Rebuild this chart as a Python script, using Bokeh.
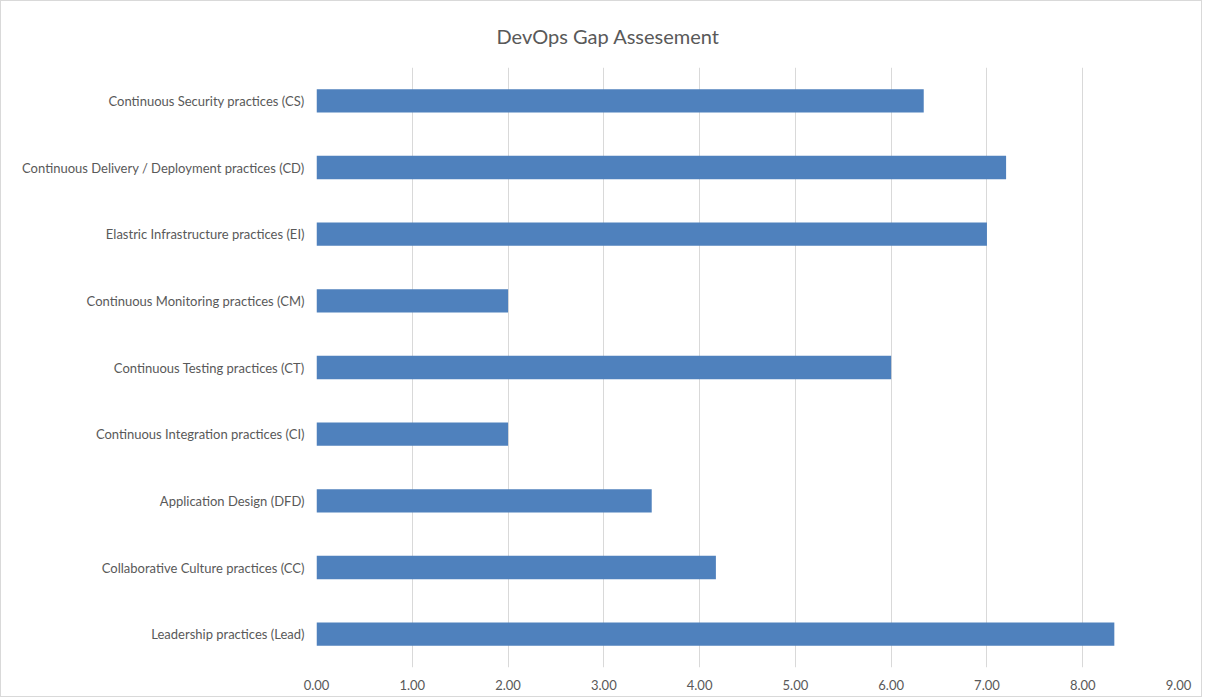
from bokeh.plotting import figure
from bokeh.models import FixedTicker, NumeralTickFormatter, Range1d, FactorRange
from bokeh.embed import file_html
from bokeh.resources import INLINE

categories = [
    "Leadership practices (Lead)",
    "Collaborative Culture practices (CC)",
    "Application Design (DFD)",
    "Continuous Integration practices (CI)",
    "Continuous Testing practices (CT)",
    "Continuous Monitoring practices (CM)",
    "Elastric Infrastructure practices (EI)",
    "Continuous Delivery / Deployment practices (CD)",
    "Continuous Security practices (CS)",
]
values = [8.33, 4.17, 3.5, 2.0, 6.0, 2.0, 7.0, 7.2, 6.34]
x_ticks = [0, 1, 2, 3, 4, 5, 6, 7, 8, 9]

TEXT = "#595959"
FONT = "Lato"

ORIG = 2
W, H = 1202, 697
p = figure(
    width=W, height=H,
    y_range=FactorRange(*categories, range_padding=0),
    x_range=Range1d(0, 9),
    output_backend="svg", toolbar_location=None,
    min_border_left=317 - ORIG, min_border_top=68 - ORIG,
    min_border_right=ORIG + W - 1179, min_border_bottom=ORIG + H - 668,
)
p.styles = {"border": "1px solid #d9d9d9"}
p.title.text = "DevOps Gap Assesement"
p.title.align = "left"
p.title.offset = 180
p.title.text_font = FONT
p.title.text_font_size = "20px"
p.title.text_font_style = "normal"
p.title.text_color = TEXT
p.title.standoff = 40

p.hbar(y=categories, right=values, left=0, height=0.35, color="#4F81BD", line_color=None)

p.outline_line_color = None
p.ygrid.grid_line_color = None
p.xgrid.grid_line_color = "#d9d9d9"
p.xgrid.grid_line_width = 1
p.xaxis.ticker = FixedTicker(ticks=x_ticks)
p.xaxis.formatter = NumeralTickFormatter(format="0.00")

for ax in (p.xaxis[0], p.yaxis[0]):
    ax.axis_line_color = None
    ax.major_tick_line_color = None
    ax.minor_tick_line_color = None
    ax.major_label_text_font = FONT
    ax.major_label_text_font_size = "13px"
    ax.major_label_text_color = TEXT
p.xaxis.major_label_standoff = 6
p.yaxis.major_label_standoff = 6

open("out.html", "w").write(file_html(p, INLINE))
